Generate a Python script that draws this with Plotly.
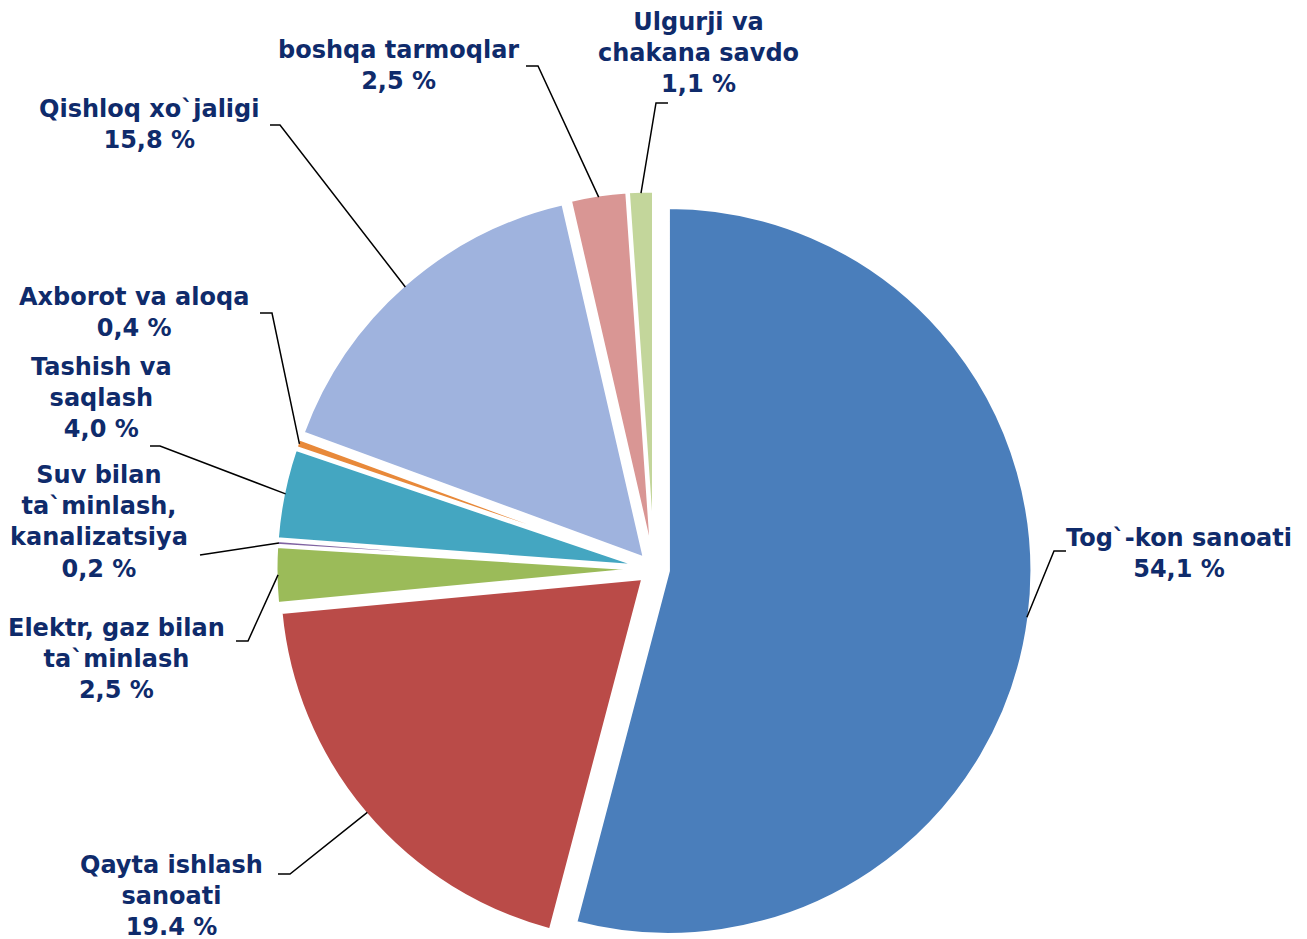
import math
import plotly.graph_objects as go

# ---- data ----
categories = [
    "Tog`-kon sanoati",
    "Qayta ishlash sanoati",
    "Elektr, gaz bilan ta`minlash",
    "Suv bilan ta`minlash, kanalizatsiya",
    "Tashish va saqlash",
    "Axborot va aloqa",
    "Qishloq xo`jaligi",
    "boshqa tarmoqlar",
    "Ulgurji va chakana savdo",
]
values = [54.1, 19.4, 2.5, 0.2, 4.0, 0.4, 15.8, 2.5, 1.1]
label_texts = [
    "Tog`-kon sanoati<br>54,1 %",
    "Qayta ishlash<br>sanoati<br>19.4 %",
    "Elektr, gaz bilan<br>ta`minlash<br>2,5 %",
    "Suv bilan<br>ta`minlash,<br>kanalizatsiya<br>0,2 %",
    "Tashish va<br>saqlash<br>4,0 %",
    "Axborot va aloqa<br>0,4 %",
    "Qishloq xo`jaligi<br>15,8 %",
    "boshqa tarmoqlar<br>2,5 %",
    "Ulgurji va<br>chakana savdo<br>1,1 %",
]
colors = ["#4A7EBB", "#BA4B48", "#9BBB59", "#8064A2", "#44A6C1",
          "#E8893A", "#9FB3DE", "#D99694", "#C3D69B"]

# ---- layout geometry (pixels) ----
W, H = 1307, 939
cx, cy = 646, 561
pull = 0.04
ry = H - cy
rx = ry
r = ry / (1 + pull)

# label centres and leader-line starting points (pixels)
label_pos = [(1171, 545), (163, 888), (108, 651), (91, 514), (93, 390),
             (126, 305), (141, 116), (390, 58), (690, 45)]
leader_start = [
    [(1058, 543), (1046, 543)],
    [(270, 866), (282, 866)],
    [(228, 633), (240, 633)],
    [(192, 547)],
    [(142, 438), (152, 438)],
    [(252, 305), (264, 305)],
    [(262, 117), (272, 117)],
    [(518, 58), (530, 58)],
    [(660, 95), (648, 95)],
]

def to_paper(px, py):
    return px / W, 1 - py / H

fig = go.Figure()
fig.add_trace(go.Pie(
    labels=categories,
    values=values,
    sort=False,
    direction="clockwise",
    rotation=0,
    pull=[pull] * len(values),
    marker=dict(colors=colors, line=dict(color="white", width=3)),
    textinfo="none",
    hoverinfo="label+percent",
    showlegend=False,
    domain=dict(x=[(cx - rx) / W, (cx + rx) / W], y=[0, 2 * ry / H]),
))

total = sum(values)
cum = 0.0
shapes = []
annotations = []
for i, v in enumerate(values):
    theta = math.radians(360 * (cum + v / 2) / total)
    cum += v
    dist = r * (1 + pull) - 2
    tx = cx + dist * math.sin(theta)
    ty = cy - dist * math.cos(theta)
    pts = leader_start[i] + [(tx, ty)]
    path = ""
    for k, (px, py) in enumerate(pts):
        X, Y = to_paper(px, py)
        path += ("M" if k == 0 else " L") + f" {X:.5f} {Y:.5f}"
    shapes.append(dict(type="path", path=path, xref="paper", yref="paper",
                       line=dict(color="black", width=1.5)))
    lx, ly = to_paper(*label_pos[i])
    annotations.append(dict(
        x=lx, y=ly, xref="paper", yref="paper",
        text="<b>" + label_texts[i] + "</b>",
        showarrow=False, xanchor="center", yanchor="middle", align="center",
        font=dict(family="DejaVu Sans, Arial, sans-serif", size=24, color="#0F2B6B"),
    ))

fig.update_layout(
    width=W, height=H,
    margin=dict(l=0, r=0, t=0, b=0),
    paper_bgcolor="white",
    plot_bgcolor="white",
    shapes=shapes,
    annotations=annotations,
)

fig.write_html("out.html")
